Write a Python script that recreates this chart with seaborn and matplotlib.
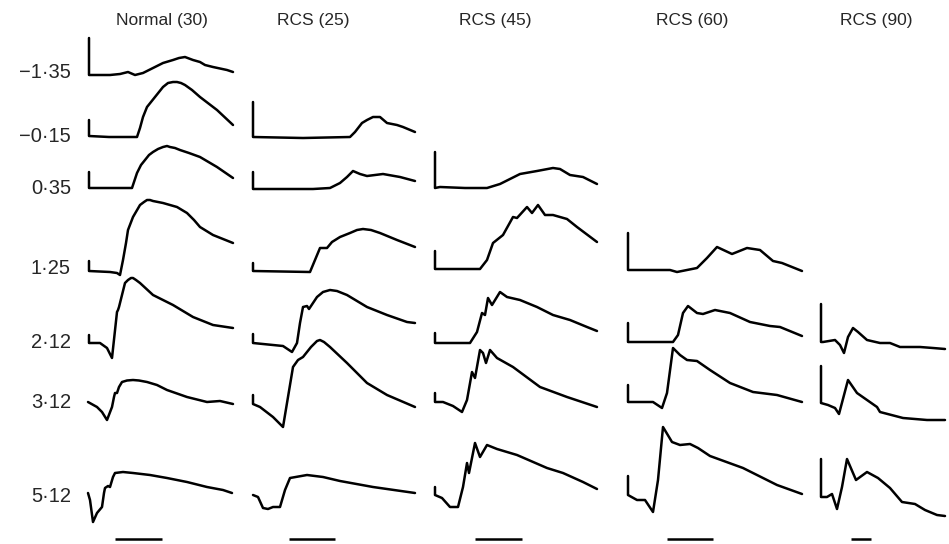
import numpy as np
import pandas as pd
import matplotlib
matplotlib.use('Agg')
import matplotlib.pyplot as plt
import seaborn as sns

# Column headers (group and age in days) and flash intensities (log units)
groups = ['Normal (30)', 'RCS (25)', 'RCS (45)', 'RCS (60)', 'RCS (90)']
intensities = ['\u22121\u00b735', '\u22120\u00b715', '0\u00b735', '1\u00b725', '2\u00b712', '3\u00b712', '5\u00b712']

# ERG traces: t = time after flash, v = voltage (up = positive)
# first two points of most traces are the flash marker
# ---- Normal (30)
n30_135_t = [0, 0, 11, 21, 31, 39, 46, 54, 64, 74, 84, 90, 96, 104, 111, 116, 124, 138, 144]
n30_135_v = [37, 0, 0, 0, 1, 3, 0, 2, 7, 12, 15, 17, 18, 15, 13, 10, 8, 5, 3]
n30_015_t = [0, 0, 20, 45, 48, 51, 54, 58, 62, 66, 74, 79, 84, 88, 92, 96, 103, 111, 128, 144]
n30_015_v = [16, 0, -1, -1, -1, 8, 19, 29, 34, 39, 49, 53, 54, 54, 53, 51, 46, 39, 26, 11]
n30_035_t = [0, 0, 43, 48, 52, 56, 60, 64, 69, 74, 78, 81, 86, 91, 100, 111, 128, 144]
n30_035_v = [16, 0, 0, 15, 23, 28, 33, 36, 39, 41, 42, 41, 40, 38, 35, 31, 21, 10]
n30_125_t = [0, 0, 21, 28, 31, 34, 37, 39, 44, 51, 55, 58, 61, 64, 74, 88, 98, 105, 111, 124, 144]
n30_125_v = [10, 0, -1, -2, -4, 11, 28, 41, 54, 66, 69, 71, 71, 70, 68, 64, 58, 51, 44, 36, 28]
n30_212_t = [0, 0, 11, 18, 23, 28, 29, 30, 33, 36, 39, 42, 44, 47, 51, 64, 84, 104, 124, 144]
n30_212_v = [8, 0, 0, -5, -15, 31, 33, 36, 48, 60, 63, 65, 65, 63, 60, 48, 38, 26, 18, 15]
n30_312_t = [-1, 8, 13, 18, 23, 25, 26, 28, 30, 33, 38, 44, 50, 58, 68, 78, 98, 118, 131, 144]
n30_312_v = [0, -5, -10, -18, -5, 5, 9, 9, 15, 20, 21.5, 22, 21.5, 20, 17, 12, 5, 0, 1, -2]
n30_512_t = [-1, 1, 4, 8, 13, 15, 16, 19, 21, 24, 26, 34, 44, 61, 78, 98, 118, 134, 143]
n30_512_v = [0, -7, -29, -20, -14, 0, 5, 7, 6, 16, 20, 21, 20, 18, 15, 11, 6, 3, 0]
# ---- RCS (25)
r25_015_t = [0, 0, 50, 97, 102, 109, 114, 120, 127, 134, 144, 150, 162]
r25_015_v = [35, 0, -1, 0, 5, 14, 17, 20, 20, 14, 12, 10, 5]
r25_035_t = [0, 0, 30, 60, 77, 87, 94, 100, 107, 114, 130, 147, 162]
r25_035_v = [17, 0, 0, 0, 1, 6, 12, 18, 15, 13, 15, 12, 8]
r25_125_t = [0, 0, 57, 62, 67, 74, 79, 87, 97, 104, 110, 118, 127, 144, 162]
r25_125_v = [8, 0, -1, 11, 23, 23, 29, 34, 38, 41, 42, 41, 38, 31, 24]
r25_212_t = [0, 0, 30, 39, 44, 47, 50, 54, 56, 64, 70, 77, 84, 94, 114, 134, 154, 162]
r25_212_v = [9, 0, -3, -9, 0, 20, 36, 37, 34, 46, 51, 53, 52, 48, 36, 28, 21, 20]
r25_312_t = [0, 0, 7, 20, 30, 35, 40, 45, 50, 58, 64, 67, 71, 77, 94, 114, 134, 162]
r25_312_v = [9, 0, -3, -13, -23, 7, 37, 44, 47, 57, 63, 64, 62, 57, 41, 21, 9, -3]
r25_512_t = [0, 5, 10, 15, 20, 27, 32, 37, 54, 70, 87, 120, 162]
r25_512_v = [2, 0, -11, -12, -10, -10, 7, 19, 22, 20, 16, 10, 4]
# ---- RCS (45)
r45_035_t = [0, 0, 5, 30, 52, 65, 85, 102, 118, 125, 135, 148, 162]
r45_035_v = [36, 0, 1, 0, 0, 4, 14, 17, 20, 19, 13, 11, 4]
r45_125_t = [0, 0, 45, 52, 58, 68, 78, 82, 92, 97, 103, 110, 118, 132, 142, 162]
r45_125_v = [18, 0, 0, 9, 26, 34, 52, 51, 62, 56, 64, 54, 54, 50, 42, 27]
r45_212_t = [0, 0, 35, 42, 47, 50, 53, 57, 65, 72, 85, 102, 118, 135, 152, 162]
r45_212_v = [10, 0, 0, 11, 30, 28, 45, 38, 51, 46, 43, 36, 28, 23, 16, 12]
r45_312_t = [0, 0, 8, 18, 27, 32, 37, 40, 45, 48, 51, 55, 62, 78, 105, 132, 162]
r45_312_v = [9, 0, 0, -4, -10, 2, 30, 24, 52, 49, 39, 52, 44, 35, 15, 5, -5]
r45_512_t = [0, 0, 7, 15, 23, 28, 32, 34, 40, 45, 52, 62, 82, 112, 128, 148, 162]
r45_512_v = [8, 0, -3, -12, -12, 8, 32, 22, 52, 38, 50, 46, 40, 27, 22, 13, 6]
# ---- RCS (60)
r60_125_t = [0, 0, 20, 42, 49, 69, 79, 89, 104, 119, 132, 145, 154, 174]
r60_125_v = [37, 0, 0, 0, -2, 2, 12, 23, 16, 22, 20, 9, 7, -1]
r60_212_t = [0, 0, 45, 50, 55, 60, 69, 75, 87, 102, 122, 142, 152, 174]
r60_212_v = [19, 0, 0, 7, 29, 36, 29, 28, 32, 29, 20, 16, 15, 6]
r60_312_t = [0, 0, 25, 34, 39, 45, 52, 59, 69, 82, 102, 125, 149, 174]
r60_312_v = [17, 0, 0, -6, 9, 54, 47, 42, 41, 32, 19, 10, 7, 0]
r60_512_t = [0, 0, 9, 17, 25, 30, 35, 44, 52, 62, 70, 82, 115, 149, 174]
r60_512_v = [19, 0, -5, -5, -17, 15, 68, 53, 50, 51, 47, 39, 27, 10, 1]
# ---- RCS (90)
r90_212_t = [0, 0, 2, 14, 19, 23, 27, 32, 37, 46, 59, 69, 79, 99, 112, 124]
r90_212_v = [38, 0, 0, 2, -3, -11, 5, 14, 10, 2, -1, -1, -5, -5, -6, -7]
r90_312_t = [0, 0, 7, 14, 18, 27, 36, 56, 59, 82, 106, 124]
r90_312_v = [37, 0, -2, -5, -11, 23, 10, -4, -9, -15, -17, -17]
r90_512_t = [0, 0, 6, 11, 16, 21, 26, 35, 46, 57, 69, 81, 94, 104, 116, 124]
r90_512_v = [38, 0, 0, 3, -12, 10, 38, 17, 25, 19, 9, -5, -7, -13, -18, -19]

# where each trace sits on the page: (t, v, x of flash, baseline)
traces = [
    (n30_135_t, n30_135_v, 89, 75), (n30_015_t, n30_015_v, 89, 136),
    (n30_035_t, n30_035_v, 89, 188), (n30_125_t, n30_125_v, 89, 271),
    (n30_212_t, n30_212_v, 89, 343), (n30_312_t, n30_312_v, 89, 402),
    (n30_512_t, n30_512_v, 89, 493),
    (r25_015_t, r25_015_v, 253, 137), (r25_035_t, r25_035_v, 253, 189),
    (r25_125_t, r25_125_v, 253, 271), (r25_212_t, r25_212_v, 253, 343),
    (r25_312_t, r25_312_v, 253, 404), (r25_512_t, r25_512_v, 253, 497),
    (r45_035_t, r45_035_v, 435, 188), (r45_125_t, r45_125_v, 435, 269),
    (r45_212_t, r45_212_v, 435, 343), (r45_312_t, r45_312_v, 435, 402),
    (r45_512_t, r45_512_v, 435, 495),
    (r60_125_t, r60_125_v, 628, 270), (r60_212_t, r60_212_v, 628, 342),
    (r60_312_t, r60_312_v, 628, 402), (r60_512_t, r60_512_v, 628, 495),
    (r90_212_t, r90_212_v, 821, 342), (r90_312_t, r90_312_v, 821, 403),
    (r90_512_t, r90_512_v, 821, 497),
]

# time scale bars under each column (start, length)
bar_start = [115, 289, 475, 667, 851]
bar_len = [47, 46, 47, 46, 20]

title_x = [162, 313, 495, 692, 876]
label_y = [73, 137, 188, 268, 342, 403, 497]

sns.set_style('white')
plt.rcParams['font.family'] = ['Liberation Sans', 'DejaVu Sans']

fig = plt.figure(figsize=(9.49, 5.44), dpi=100)
ax = fig.add_axes([0, 0, 1, 1])

for t, v, x0, y0 in traces:
    df = pd.DataFrame({'x': x0 + np.array(t), 'y': y0 - np.array(v)})
    sns.lineplot(data=df, x='x', y='y', ax=ax, color='black', linewidth=1.8,
                 sort=False, estimator=None, solid_joinstyle='round')

for s, l in zip(bar_start, bar_len):
    ax.plot([s, s + l], [539, 539], color='black', linewidth=1.8, solid_capstyle='butt')

for g, x in zip(groups, title_x):
    ax.text(x, 21, g, ha='center', va='center', fontsize=12.5)

for lab, y in zip(intensities, label_y):
    ax.text(71, y, lab, ha='right', va='center', fontsize=14.5)

ax.set_xlim(0, 949)
ax.set_ylim(544, 0)
ax.axis('off')

fig.savefig('out.png', dpi=100)
